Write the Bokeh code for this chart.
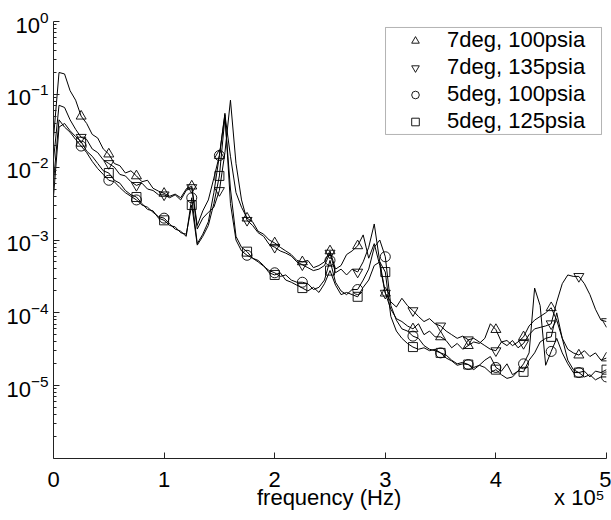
import numpy as np
from bokeh.plotting import figure
from bokeh.models import (FixedTicker, CustomJSTickFormatter, Legend, LegendItem,
                          BoxAnnotation)
from bokeh.embed import file_html
from bokeh.resources import INLINE

# frequency grid (Hz), 5 kHz spacing
freq = np.arange(0, 500001, 5000)

# spectra, log10 of PSD
s7_100_log10 = [
    -1.60, -0.70, -0.72, -0.95, -1.08, -1.30, -1.40, -1.55, -1.60, -1.75,
    -1.82, -1.95, -1.98, -2.08, -2.05, -2.12, -2.20, -2.18, -2.29, -2.33,
    -2.36, -2.40, -2.37, -2.42, -2.30, -2.26, -2.80, -2.60, -2.45, -2.15,
    -1.84, -1.28, -1.85, -2.35, -2.55, -2.70, -2.75, -2.88, -2.92, -3.00,
    -3.04, -3.10, -3.15, -3.20, -3.28, -3.30, -3.28, -3.38, -3.35, -3.30,
    -3.15, -3.40, -3.35, -3.20, -3.15, -3.08, -2.93, -3.25, -3.05, -3.35,
    -3.73, -3.95, -4.08, -4.12, -4.18, -4.22, -4.15, -4.30, -4.25, -4.33,
    -4.33, -4.38, -4.48, -4.42, -4.50, -4.45, -4.40, -4.42, -4.35, -4.15,
    -4.23, -4.40, -4.38, -4.45, -4.40, -4.33, -4.18, -4.10, -4.05, -4.00,
    -3.93, -4.10, -4.35, -4.50, -4.55, -4.58, -4.52, -4.60, -4.55, -4.65,
    -4.62]
s7_135_log10 = [
    -1.90, -1.15, -1.18, -1.35, -1.48, -1.59, -1.62, -1.75, -1.80, -1.90,
    -1.95, -2.00, -2.10, -2.12, -2.20, -2.25, -2.22, -2.30, -2.32, -2.38,
    -2.38, -2.42, -2.38, -2.45, -2.32, -2.28, -2.85, -2.70, -2.62, -2.55,
    -2.32, -1.80, -1.08, -1.95, -2.45, -2.73, -2.80, -2.90, -2.95, -3.06,
    -3.10, -3.15, -3.18, -3.22, -3.30, -3.34, -3.38, -3.42, -3.40, -3.35,
    -3.18, -3.45, -3.40, -3.48, -3.40, -3.44, -3.30, -3.10, -2.78, -3.30,
    -3.73, -3.85, -3.92, -3.80, -3.90, -3.97, -4.05, -4.12, -4.08, -4.15,
    -4.18, -4.25, -4.30, -4.35, -4.32, -4.37, -4.35, -4.40, -4.45, -4.50,
    -4.52, -4.40, -4.45, -4.38, -4.48, -4.42, -4.30, -4.22, -4.20, -4.18,
    -4.15, -3.85, -3.60, -3.48, -3.50, -3.50, -3.60, -3.75, -3.95, -4.10,
    -4.12]
s5_100_log10 = [
    -2.20, -1.35, -1.45, -1.52, -1.62, -1.71, -1.80, -1.92, -2.02, -2.10,
    -2.18, -2.20, -2.28, -2.35, -2.40, -2.45, -2.52, -2.55, -2.62, -2.68,
    -2.70, -2.78, -2.85, -2.88, -2.95, -2.42, -3.05, -2.92, -2.75, -2.35,
    -1.84, -1.26, -2.50, -3.00, -3.15, -3.21, -3.25, -3.30, -3.36, -3.42,
    -3.45, -3.50, -3.48, -3.55, -3.58, -3.58, -3.60, -3.68, -3.65, -3.55,
    -3.28, -3.58, -3.70, -3.75, -3.68, -3.68, -3.55, -3.40, -3.10, -3.00,
    -3.23, -3.90, -4.10, -4.22, -4.25, -4.32, -4.35, -4.45, -4.50, -4.52,
    -4.55, -4.58, -4.65, -4.70, -4.68, -4.71, -4.75, -4.72, -4.65, -4.60,
    -4.75, -4.80, -4.70, -4.85, -4.80, -4.70, -4.55, -3.66, -3.90, -4.72,
    -4.53, -4.35, -4.55, -4.70, -4.82, -4.82, -4.88, -4.85, -4.92, -4.88,
    -4.88]
s5_125_log10 = [
    -2.40, -1.45, -1.40, -1.50, -1.58, -1.65, -1.78, -1.85, -1.95, -2.05,
    -2.08, -2.18, -2.22, -2.32, -2.38, -2.41, -2.50, -2.58, -2.60, -2.70,
    -2.73, -2.80, -2.82, -2.90, -2.92, -2.52, -3.07, -2.95, -2.80, -2.50,
    -2.12, -1.32, -2.30, -2.95, -3.10, -3.16, -3.25, -3.28, -3.35, -3.45,
    -3.48, -3.45, -3.55, -3.58, -3.62, -3.66, -3.70, -3.65, -3.72, -3.60,
    -3.42, -3.62, -3.75, -3.72, -3.75, -3.78, -3.65, -3.55, -3.35, -3.30,
    -3.44, -4.05, -4.25, -4.35, -4.42, -4.47, -4.50, -4.48, -4.52, -4.50,
    -4.55, -4.62, -4.66, -4.72, -4.70, -4.71, -4.78, -4.72, -4.75, -4.82,
    -4.78, -4.85, -4.90, -4.88, -4.80, -4.81, -4.65, -4.55, -4.40, -4.35,
    -4.33, -4.00, -4.35, -4.65, -4.78, -4.82, -4.80, -4.88, -4.80, -4.82,
    -4.78]

series_labels = ["7deg, 100psia", "7deg, 135psia", "5deg, 100psia", "5deg, 125psia"]
series_markers = ["triangle", "inverted_triangle", "circle", "square"]
series_data = [s7_100_log10, s7_135_log10, s5_100_log10, s5_125_log10]

x_tick_values = [0, 100000, 200000, 300000, 400000, 500000]
y_tick_values = [1e-5, 1e-4, 1e-3, 1e-2, 1e-1, 1e0]
x_title = "frequency (Hz)"
x_multiplier = "x 10\u2075"

FONT = "Liberation Sans"
FS = "22px"

p = figure(width=611, height=520, x_range=(0, 5e5), y_range=(1e-6, 1),
           y_axis_type="log", output_backend="svg", toolbar_location=None,
           min_border_left=53, min_border_right=5, min_border_top=21,
           min_border_bottom=62)
p.outline_line_color = None
p.xgrid.grid_line_color = None
p.ygrid.grid_line_color = None
p.background_fill_color = "white"
p.border_fill_color = "white"

# legend frame (drawn as a box in the upper right of the axes)
p.add_layout(BoxAnnotation(left=3.002e5, right=4.955e5, bottom=10 ** -1.551,
                           top=10 ** -0.082, fill_color="white", fill_alpha=1,
                           line_color="black", line_width=1, level="overlay"))

items = []
for lab, mk, d in zip(series_labels, series_markers, series_data):
    y = 10.0 ** np.array(d)
    p.line(freq, y, line_color="black", line_width=1.0)
    sz = 9 if mk == "square" else 10
    r = p.scatter(freq[5::5], y[5::5], marker=mk, size=sz, fill_color=None,
                  line_color="black", line_width=0.9)
    items.append(LegendItem(label=lab, renderers=[r]))

xa = p.xaxis[0]
ya = p.yaxis[0]
xa.ticker = FixedTicker(ticks=x_tick_values)
xa.formatter = CustomJSTickFormatter(code="return (tick/1e5).toFixed(0);")
minor = [k * 10.0 ** n for n in range(-6, 0) for k in range(2, 10)]
ya.ticker = FixedTicker(ticks=y_tick_values, minor_ticks=minor)

for ax in (xa, ya):
    ax.axis_line_color = "#222222"
    ax.axis_line_width = 1
    ax.major_tick_in = 6
    ax.major_tick_out = 0
    ax.minor_tick_in = 3
    ax.minor_tick_out = 0
    ax.major_tick_line_color = "#222222"
    ax.minor_tick_line_color = "#222222"
    ax.major_label_text_font = FONT
    ax.major_label_text_font_size = FS
    ax.major_label_text_color = "black"
xa.minor_tick_line_color = None
xa.major_label_standoff = 13
ya.major_label_standoff = 5

# axis title on one line with the x10^5 multiplier at the right end
NB = "\u00a0"
xa.axis_label = NB * 33 + x_title + NB * 25 + x_multiplier
xa.axis_label_text_font = FONT
xa.axis_label_text_font_size = FS
xa.axis_label_text_font_style = "normal"
xa.axis_label_text_color = "black"
xa.axis_label_standoff = -5

legend = Legend(items=items, location=(340, 324), border_line_color=None,
                background_fill_alpha=0, padding=0, spacing=1, margin=0,
                glyph_width=44, glyph_height=19, label_height=25,
                label_standoff=10, label_text_font=FONT,
                label_text_font_size=FS, label_text_color="black",
                level="overlay")
p.add_layout(legend)

open("out.html", "w").write(file_html(p, INLINE))
